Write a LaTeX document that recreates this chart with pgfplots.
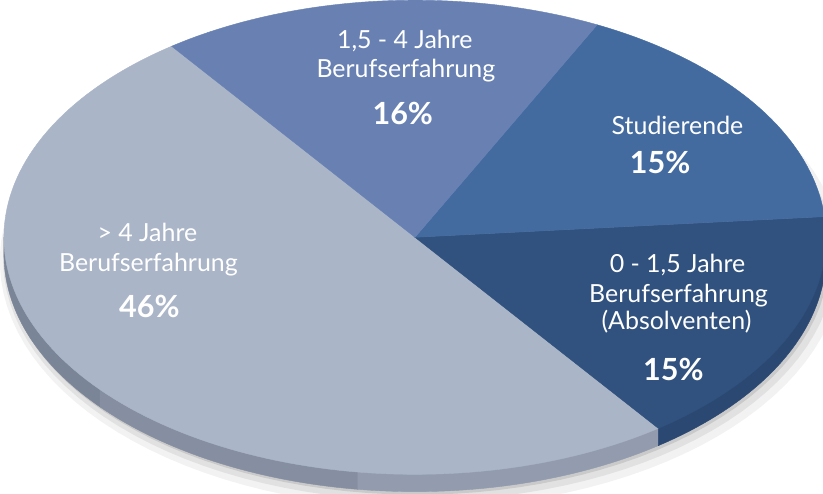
\documentclass[border=0pt]{standalone}
\usepackage{pgfplots}
\pgfplotsset{compat=1.18}
\usepackage{fontspec}
\setmainfont{Lato}
\definecolor{cgray}{RGB}{170,181,200}
\definecolor{cmid}{RGB}{104,129,178}
\definecolor{cstud}{RGB}{67,107,160}
\definecolor{cdark}{RGB}{49,82,126}
\definecolor{sgrayA}{RGB}{122,133,151}
\definecolor{sgrayB}{RGB}{133,143,161}
\definecolor{sgrayC}{RGB}{146,156,174}
\definecolor{sdark}{RGB}{43,72,114}
% data (percent values as printed)
\def\vGray{46}\def\vDark{15}\def\vStud{15}\def\vMid{16}
\def\cx{422}\def\cy{241}\def\rx{404}\def\ry{233}\def\hh{17}
\pgfmathsetmacro{\tot}{\vGray+\vDark+\vStud+\vMid}
\pgfmathsetmacro{\aA}{126.3}
\pgfmathsetmacro{\aB}{\aA+360/\tot*\vGray}
\pgfmathsetmacro{\aC}{\aB+360/\tot*\vDark}
\pgfmathsetmacro{\aD}{\aC+360/\tot*\vStud}
\pgfmathsetmacro{\aE}{\aD+360/\tot*\vMid}
\pgfmathsetmacro{\gA}{220}
\pgfmathsetmacro{\gB}{262}
% top points
\pgfmathsetmacro{\pxL}{\cx-\rx}
\pgfmathsetmacro{\pxgA}{\cx+\rx*cos(\gA)}\pgfmathsetmacro{\pygA}{\cy-\ry*sin(\gA)}
\pgfmathsetmacro{\pxgB}{\cx+\rx*cos(\gB)}\pgfmathsetmacro{\pygB}{\cy-\ry*sin(\gB)}
\pgfmathsetmacro{\pxB}{\cx+\rx*cos(\aB)}\pgfmathsetmacro{\pyB}{\cy-\ry*sin(\aB)}
\pgfmathsetmacro{\pxR}{\cx+\rx}
\begin{document}
\begin{tikzpicture}
\begin{axis}[scale only axis, width=823pt, height=493pt,
  xmin=0, xmax=823, ymin=0, ymax=493, y dir=reverse, hide axis, clip=true]
% shadow
\addplot[fill=black, fill opacity=0.05, draw=none, domain=0:360, samples=120] ({\cx+6+(\rx+10)*cos(x)},{\cy+\hh+6-(\ry+10)*sin(x)});
\addplot[fill=black, fill opacity=0.07, draw=none, domain=0:360, samples=120] ({\cx+4+(\rx+5)*cos(x)},{\cy+\hh+4-(\ry+5)*sin(x)});
\addplot[fill=black, fill opacity=0.10, draw=none, domain=0:360, samples=120] ({\cx+2+(\rx+1)*cos(x)},{\cy+\hh+2-(\ry+1)*sin(x)});
% sides
\addplot[fill=sgrayA, draw=sgrayA, domain=180:\gA, samples=40] ({\cx+\rx*cos(x)},{\cy-\ry*sin(x)+\hh}) -- (axis cs:\pxgA,\pygA) -- (axis cs:\cx,\cy) -- (axis cs:\pxL,\cy) -- cycle;
\addplot[fill=sgrayB, draw=sgrayB, domain=\gA:\gB, samples=40] ({\cx+\rx*cos(x)},{\cy-\ry*sin(x)+\hh}) -- (axis cs:\pxgB,\pygB) -- (axis cs:\cx,\cy) -- (axis cs:\pxgA,\pygA) -- cycle;
\addplot[fill=sgrayC, draw=sgrayC, domain=\gB:\aB, samples=40] ({\cx+\rx*cos(x)},{\cy-\ry*sin(x)+\hh}) -- (axis cs:\pxB,\pyB) -- (axis cs:\cx,\cy) -- (axis cs:\pxgB,\pygB) -- cycle;
\addplot[fill=sdark, draw=sdark, domain=\aB:360, samples=40] ({\cx+\rx*cos(x)},{\cy-\ry*sin(x)+\hh}) -- (axis cs:\pxR,\cy) -- (axis cs:\cx,\cy) -- (axis cs:\pxB,\pyB) -- cycle;
% top face
\addplot[fill=cgray, draw=cgray, domain=\aA:\aB, samples=120] ({\cx+\rx*cos(x)},{\cy-\ry*sin(x)}) -- (axis cs:\cx,\cy) -- cycle;
\addplot[fill=cdark, draw=cdark, domain=\aB:\aC, samples=60] ({\cx+\rx*cos(x)},{\cy-\ry*sin(x)}) -- (axis cs:\cx,\cy) -- cycle;
\addplot[fill=cstud, draw=cstud, domain=\aC:\aD, samples=60] ({\cx+\rx*cos(x)},{\cy-\ry*sin(x)}) -- (axis cs:\cx,\cy) -- cycle;
\addplot[fill=cmid, draw=cmid, domain=\aD:\aE, samples=60] ({\cx+\rx*cos(x)},{\cy-\ry*sin(x)}) -- (axis cs:\cx,\cy) -- cycle;
% labels
\tikzset{lab/.style={text=white, anchor=base, inner sep=0pt, font=\fontsize{24.5}{28}\selectfont},
         pct/.style={text=white, anchor=base, inner sep=0pt, font=\fontsize{30}{34}\selectfont\bfseries}}
\node[lab] at (axis cs:412,55) {1,5 - 4 Jahre};
\node[lab] at (axis cs:413,84) {Berufserfahrung};
\node[pct] at (axis cs:410,130) {16\%};
\node[lab] at (axis cs:680,140) {Studierende};
\node[pct] at (axis cs:663,178) {15\%};
\node[lab] at (axis cs:159,245) {> 4 Jahre};
\node[lab] at (axis cs:160,275) {Berufserfahrung};
\node[pct] at (axis cs:161,320) {46\%};
\node[lab] at (axis cs:680,276) {0 - 1,5 Jahre};
\node[lab] at (axis cs:681,305) {Berufserfahrung};
\node[lab] at (axis cs:679,332) {(Absolventen)};
\node[pct] at (axis cs:676,382) {15\%};
\end{axis}
\end{tikzpicture}
\end{document}
